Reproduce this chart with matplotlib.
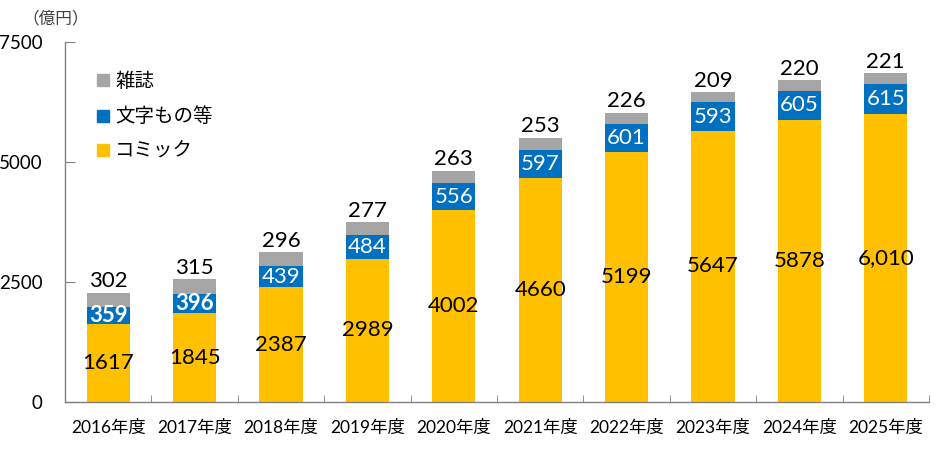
import matplotlib
matplotlib.use("Agg")
import matplotlib.pyplot as plt
from matplotlib.lines import Line2D
import numpy as np

years = ["2016年度", "2017年度", "2018年度", "2019年度", "2020年度",
         "2021年度", "2022年度", "2023年度", "2024年度", "2025年度"]
comic = [1617, 1845, 2387, 2989, 4002, 4660, 5199, 5647, 5878, 6010]
text_books = [359, 396, 439, 484, 556, 597, 601, 593, 605, 615]
magazine = [302, 315, 296, 277, 263, 253, 226, 209, 220, 221]
comic_labels = ["1617", "1845", "2387", "2989", "4002", "4660", "5199", "5647", "5878", "6,010"]
bold_text_labels = [True, True, False, False, False, False, False, False, False, False]
yticks = [0, 2500, 5000, 7500]

C_COMIC = "#FFC000"
C_TEXT = "#0070C0"
C_MAG = "#A5A5A5"
FONT = ["Lato", "Noto Sans CJK JP", "DejaVu Sans"]
plt.rcParams["font.family"] = FONT

fig = plt.figure(figsize=(9.44, 4.49), dpi=100)
ax = fig.add_axes([65 / 944, 47 / 449, 864 / 944, 360 / 449])

x = np.arange(len(years))
w = 0.5
comic_a = np.array(comic)
text_a = np.array(text_books)
mag_a = np.array(magazine)
ax.bar(x, comic_a, w, color=C_COMIC, zorder=2)
ax.bar(x, text_a, w, bottom=comic_a, color=C_TEXT, zorder=2)
ax.bar(x, mag_a, w, bottom=comic_a + text_a, color=C_MAG, zorder=2)

for i in range(len(x)):
    ax.text(x[i], comic_a[i] / 2, comic_labels[i], ha="center", va="center",
            fontsize=16, color="black", zorder=3)
    ax.text(x[i], comic_a[i] + text_a[i] / 2, str(text_a[i]), ha="center", va="center",
            fontsize=16, color="white", zorder=3,
            fontweight="bold" if bold_text_labels[i] else "normal")
    ax.annotate(str(mag_a[i]), (x[i], comic_a[i] + text_a[i] + mag_a[i]),
                xytext=(0, 1), textcoords="offset points", ha="center", va="bottom",
                fontsize=16, color="black", zorder=3)

ax.set_xlim(-0.5, len(years) - 0.5)
ax.set_ylim(0, 7500)
ax.set_yticks(yticks)
ax.set_yticklabels([str(v) for v in yticks], fontsize=13.5)
ax.set_xticks(x)
ax.set_xticklabels(years, fontsize=12.5)
ax.tick_params(axis="x", which="major", length=0, pad=13)
ax.set_xticks(np.arange(-0.5, len(years), 1.0), minor=True)
ax.tick_params(axis="x", which="minor", direction="in", length=5, color="#808080")
ax.tick_params(axis="y", direction="in", length=7, color="#808080", pad=16)
for s in ["top", "right"]:
    ax.spines[s].set_visible(False)
for s in ["left", "bottom"]:
    ax.spines[s].set_color("#808080")
    ax.spines[s].set_linewidth(1.0)

handles = [Line2D([], [], marker="s", linestyle="none", markersize=8, color=c)
           for c in (C_MAG, C_TEXT, C_COMIC)]
ax.legend(handles, ["雑誌", "文字もの等", "コミック"], loc="upper left",
          bbox_to_anchor=(88 / 944, 1 - 64 / 449), bbox_transform=fig.transFigure,
          frameon=False, fontsize=14, handlelength=0.7, handletextpad=0.3,
          labelspacing=0.85, borderaxespad=0)

fig.text(22 / 944, 1 - 18 / 449, "（億円）", fontsize=12, va="center", ha="left",
         color="#404040")

fig.savefig("out.png", dpi=100)
